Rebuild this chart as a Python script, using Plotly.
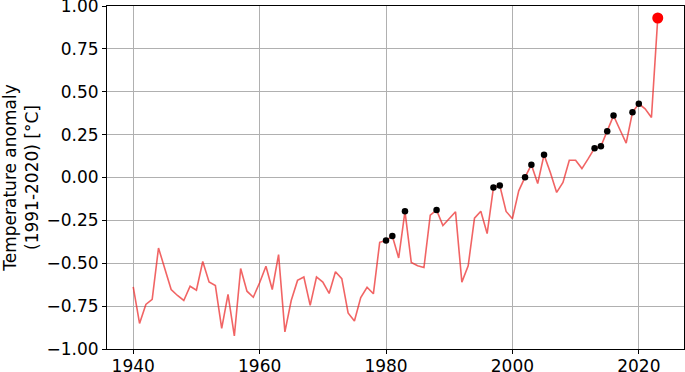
import plotly.graph_objects as go

years = list(range(1940, 2024))
anomaly = [
    -0.638, -0.851, -0.740, -0.711, -0.411, -0.533, -0.653, -0.688, -0.717, -0.634,  # 1940-1949
    -0.657, -0.490, -0.609, -0.630, -0.880, -0.682, -0.924, -0.531, -0.663, -0.698,  # 1950-1959
    -0.614, -0.517, -0.653, -0.450, -0.900, -0.717, -0.600, -0.580, -0.746, -0.580,  # 1960-1969
    -0.610, -0.676, -0.550, -0.590, -0.790, -0.837, -0.700, -0.640, -0.678, -0.378,  # 1970-1979
    -0.368, -0.341, -0.469, -0.197, -0.496, -0.515, -0.525, -0.220, -0.190, -0.280,  # 1980-1989
    -0.240, -0.200, -0.610, -0.515, -0.237, -0.197, -0.327, -0.058, -0.047, -0.198,  # 1990-1999
    -0.240, -0.078, 0.002, 0.074, -0.035, 0.132, 0.029, -0.087, -0.029, 0.101,       # 2000-2009
    0.101, 0.052, 0.110, 0.171, 0.182, 0.270, 0.361, 0.280, 0.200, 0.380,            # 2010-2019
    0.430, 0.400, 0.350, 0.930,                                                      # 2020-2023
]
record_years = [1980, 1981, 1983, 1988, 1997, 1998, 2002, 2003, 2005,
                2013, 2014, 2015, 2016, 2019, 2020]
latest_year = 2023

x_ticks = [1940, 1960, 1980, 2000, 2020]
y_ticks = [-1.0, -0.75, -0.5, -0.25, 0.0, 0.25, 0.5, 0.75, 1.0]
y_title = "Temperature anomaly<br>(1991-2020) [°C]"

lookup = dict(zip(years, anomaly))
rec_vals = [lookup[y] for y in record_years]

fig = go.Figure()
fig.add_trace(go.Scatter(
    x=years, y=anomaly, mode="lines",
    line=dict(color="rgba(235,40,40,0.72)", width=1.6),
    showlegend=False, hoverinfo="skip",
))
fig.add_trace(go.Scatter(
    x=record_years, y=rec_vals, mode="markers",
    marker=dict(color="black", size=6.5),
    showlegend=False,
))
fig.add_trace(go.Scatter(
    x=[latest_year], y=[lookup[latest_year]], mode="markers",
    marker=dict(color="red", size=11),
    showlegend=False,
))

font = dict(family="DejaVu Sans", size=17, color="black")
axis_common = dict(
    showline=True, linecolor="black", linewidth=1, mirror=True,
    showgrid=True, gridcolor="#b0b0b0", gridwidth=1,
    ticks="outside", ticklen=4, tickwidth=1, tickcolor="black",
    zeroline=False, tickfont=font, automargin=False,
    ticklabeloverflow="allow",
)
fig.update_xaxes(range=[1935.85, 2027.15], tickvals=x_ticks,
                 ticklabelstandoff=-2, **axis_common)
fig.update_yaxes(range=[-1, 1], tickvals=y_ticks, tickformat=".2f",
                 title=dict(text=y_title, font=font, standoff=6), **axis_common)
fig.update_layout(
    width=685, height=372,
    margin=dict(l=107, r=1, t=6, b=23),
    paper_bgcolor="white", plot_bgcolor="white",
    font=font,
)
fig.write_html(
    "out.html",
    config={"displayModeBar": False},
    post_script="document.body.style.margin='0';document.body.style.overflow='hidden';",
)
